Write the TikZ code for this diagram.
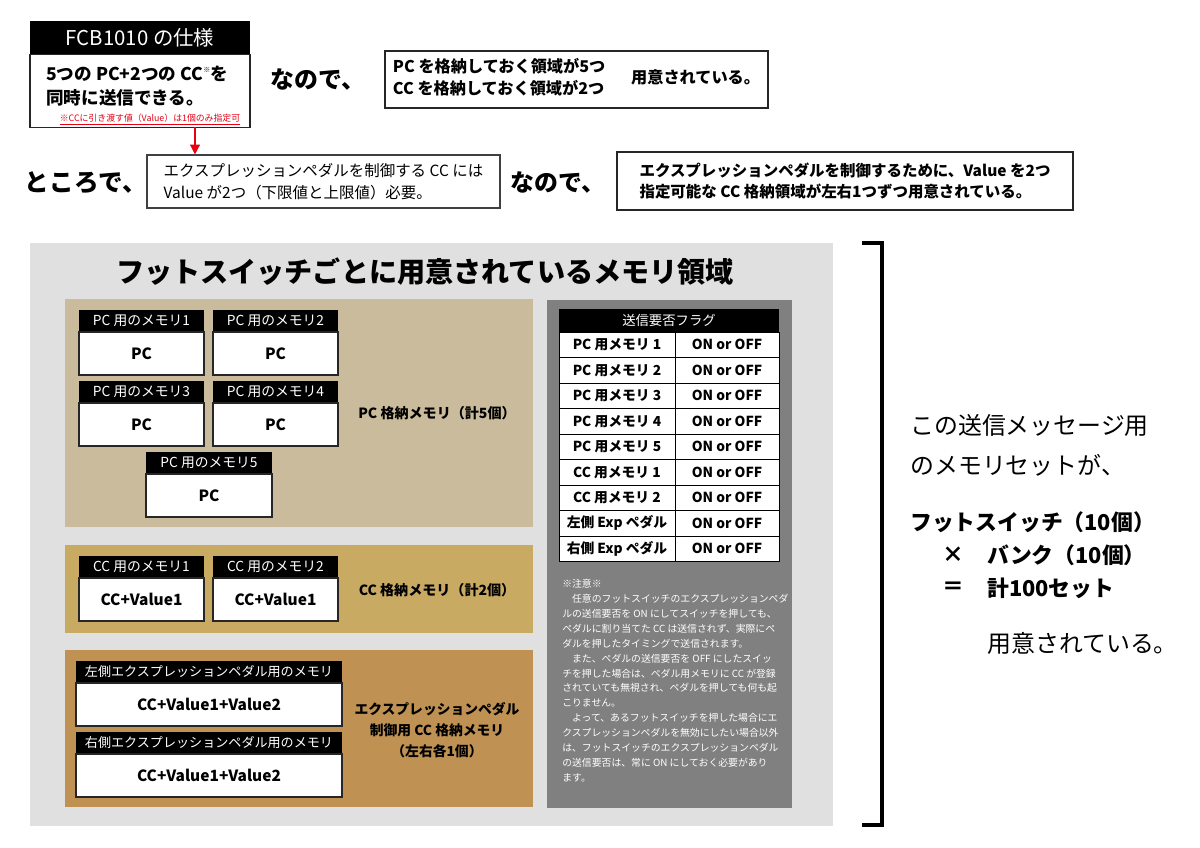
\documentclass[tikz,border=0pt]{standalone}
\usepackage{fontspec}
\setmainfont{Noto Sans CJK JP}
\usetikzlibrary{positioning,arrows.meta}

\definecolor{panelgray}{HTML}{E0E0E0}
\definecolor{pcpanel}{HTML}{C9BB9B}
\definecolor{ccpanel}{HTML}{C9AA63}
\definecolor{exppanel}{HTML}{BF9152}
\definecolor{flagpanel}{HTML}{808080}
\definecolor{notered}{HTML}{E60012}

\def\pxu{0.025cm}
\newcommand{\fsz}[2]{\fontsize{#1pt}{#2pt}\selectfont}

\tikzset{
  memhead/.style={fill=black, text=white, inner sep=0pt, outer sep=0pt, minimum height=22*\pxu, font=\fsz{9.8}{11}},
  membody/.style={fill=white, draw=black!85, line width=0.9pt, inner sep=0pt, outer sep=0pt, minimum height=43*\pxu, font=\bfseries\fsz{11}{12}},
  panellabel/.style={font=\bfseries\fsz{10}{15}, align=center},
  flagcell/.style={fill=white, draw=black, line width=0.6pt, inner sep=0pt, outer sep=0pt, minimum height=25.5*\pxu, font=\bfseries\fsz{9.8}{11}},
  bigword/.style={font=\bfseries\fsz{17}{20}},
  thickbox/.style={draw=black!85, line width=1.6pt, fill=white, align=left},
  thinbox/.style={draw=black!75, line width=0.8pt, fill=white, align=left},
  plaintext/.style={inner sep=0pt},
}

% memory box: name, x, y, width, header, body
\newcommand{\membox}[6]{%
  \node[memhead, minimum width=#4*\pxu, anchor=north west] (#1h) at (#2,#3) {#5};
  \node[membody, minimum width=#4*\pxu, below=0pt of #1h] (#1) {#6};
}

\begin{document}
\begin{tikzpicture}[x=0.025cm, y=-0.025cm]
\useasboundingbox (0,0) rectangle (1200,847);

% top row
\node[fill=black, text=white, minimum width=220*\pxu, minimum height=33*\pxu, inner sep=0pt, outer sep=0pt, font=\fsz{14.5}{16}] (specHead) at (140,38) {FCB1010 の仕様};
\node[draw=black!85, line width=1pt, fill=white, minimum width=220*\pxu, minimum height=73*\pxu, inner sep=0pt, outer sep=0pt, below=0pt of specHead] (specBody) {};
\node[plaintext, anchor=west, align=left, font=\bfseries\fsz{12.5}{17.5}] (specText) at (46,86) {5つの PC+2つの CC\raisebox{0.8ex}{\fsz{5}{5}※}を\\同時に送信できる。};
\node[text=notered, font=\fsz{6.3}{7}, inner sep=1pt] (specNote) at (150,120) {\underline{※CCに引き渡す値（Value）は1個のみ指定可}};

\node[bigword] (soWord1) at (318,80) {なので、};
\node[thickbox, minimum width=383*\pxu, minimum height=57*\pxu, font=\bfseries\fsz{11.5}{15.5}] (storeBox) at (576.5,79.5) {\begin{tabular}{@{}l@{}}PC を格納しておく領域が5つ\\CC を格納しておく領域が2つ\end{tabular}\hspace{1.6em}用意されている。};

% second row
\node[bigword, font=\bfseries\fsz{17.5}{20}] (byWay) at (86,183) {ところで、};
\node[thinbox, minimum width=353*\pxu, minimum height=53*\pxu, font=\fsz{11}{15.5}] (pedalNeed) at (323.5,181.5) {エクスプレッションペダルを制御する CC には\\Value が2つ（下限値と上限値）必要。};
\node[bigword] (soWord2) at (558,183) {なので、};
\node[thickbox, minimum width=456*\pxu, minimum height=58*\pxu, font=\bfseries\fsz{11}{15.5}] (pedalAlloc) at (845,181) {エクスプレッションペダルを制御するために、Value を2つ\\指定可能な CC 格納領域が左右1つずつ用意されている。};

\coordinate (arrowX) at (195,0);
\draw[notered, line width=1pt, -{Triangle[length=7pt,width=7pt]}] (specNote.south -| arrowX) -- (pedalNeed.north -| arrowX);

% memory panels
\fill[panelgray] (30,243) rectangle (833,826);
\node[font=\bfseries\fsz{20}{22}] (memTitle) at (425,272) {フットスイッチごとに用意されているメモリ領域};

\fill[pcpanel] (65,299) rectangle (533,527);
\fill[ccpanel] (65,545) rectangle (533,633);
\fill[exppanel] (65,650) rectangle (533,807);
\fill[flagpanel] (547,300) rectangle (792,808);

\membox{pcMem1}{79}{310}{125}{PC 用のメモリ1}{PC}
\membox{pcMem2}{213}{310}{125}{PC 用のメモリ2}{PC}
\membox{pcMem3}{79}{381}{125}{PC 用のメモリ3}{PC}
\membox{pcMem4}{213}{381}{125}{PC 用のメモリ4}{PC}
\membox{pcMem5}{146}{452}{126}{PC 用のメモリ5}{PC}
\node[panellabel] (pcLabel) at (437,413) {PC 格納メモリ（計5個）};

\membox{ccMem1}{79}{556}{125}{CC 用のメモリ1}{CC+Value1}
\membox{ccMem2}{213}{556}{125}{CC 用のメモリ2}{CC+Value1}
\node[panellabel] (ccLabel) at (437,590) {CC 格納メモリ（計2個）};

\begin{scope}[memhead/.append style={font=\fsz{9.3}{11}}]
\membox{expMemL}{76}{661}{266}{左側エクスプレッションペダル用のメモリ}{CC+Value1+Value2}
\membox{expMemR}{76}{732}{266}{右側エクスプレッションペダル用のメモリ}{CC+Value1+Value2}
\end{scope}
\node[panellabel, font=\bfseries\fsz{9.8}{15}] (expLabel) at (437,730) {エクスプレッションペダル\\制御用 CC 格納メモリ\\（左右各1個）};

% flag table
\node[fill=black, text=white, minimum width=220*\pxu, minimum height=23*\pxu, inner sep=0pt, outer sep=0pt, font=\fsz{9.5}{11}, anchor=north west] (flagHead) at (559,309) {送信要否フラグ};
\foreach \lbl [count=\i] in {PC 用メモリ 1, PC 用メモリ 2, PC 用メモリ 3, PC 用メモリ 4, PC 用メモリ 5, CC 用メモリ 1, CC 用メモリ 2, 左側 Exp ペダル, 右側 Exp ペダル} {
  \node[flagcell, minimum width=116*\pxu, anchor=north west] (flagL\i) at (559,{332+(\i-1)*25.5}) {\lbl};
  \node[flagcell, minimum width=104*\pxu, right=0pt of flagL\i] (flagR\i) {ON or OFF};
}

\node[plaintext, anchor=north west, text=white, align=left, font=\fsz{7}{10.6}] (flagNote) at (562,579) {※注意※\\
　任意のフットスイッチのエクスプレッションペダ\\
ルの送信要否を ON にしてスイッチを押しても、\\
ペダルに割り当てた CC は送信されず、実際にペ\\
ダルを押したタイミングで送信されます。\\
　また、ペダルの送信要否を OFF にしたスイッ\\
チを押した場合は、ペダル用メモリに CC が登録\\
されていても無視され、ペダルを押しても何も起\\
こりません。\\
　よって、あるフットスイッチを押した場合にエ\\
クスプレッションペダルを無効にしたい場合以外\\
は、フットスイッチのエクスプレッションペダル\\
の送信要否は、常に ON にしておく必要があり\\
ます。};

% bracket and totals
\draw[line width=2.2pt] (862,243) -- (882,243) -- (882,825) -- (862,825);

\node[plaintext, anchor=west, font=\fsz{17}{20}] (setText1) at (910,425) {この送信メッセージ用};
\node[plaintext, anchor=west, font=\fsz{17}{20}] (setText2) at (910,465) {のメモリセットが、};
\node[plaintext, anchor=west, font=\bfseries\fsz{15.5}{18}] (setCount1) at (910,522) {フットスイッチ（10個）};
\node[plaintext, font=\bfseries\fsz{15.5}{18}] (setTimes) at (953,555) {×};
\node[plaintext, anchor=west, font=\bfseries\fsz{15.5}{18}] (setCount2) at (987,555) {バンク（10個）};
\node[plaintext, font=\bfseries\fsz{15.5}{18}] (setEq) at (953,588) {＝};
\node[plaintext, anchor=west, font=\bfseries\fsz{15.5}{18}] (setCount3) at (987,588) {計100セット};
\node[plaintext, anchor=west, font=\fsz{17}{20}] (setText3) at (987,643) {用意されている。};
\end{tikzpicture}
\end{document}
